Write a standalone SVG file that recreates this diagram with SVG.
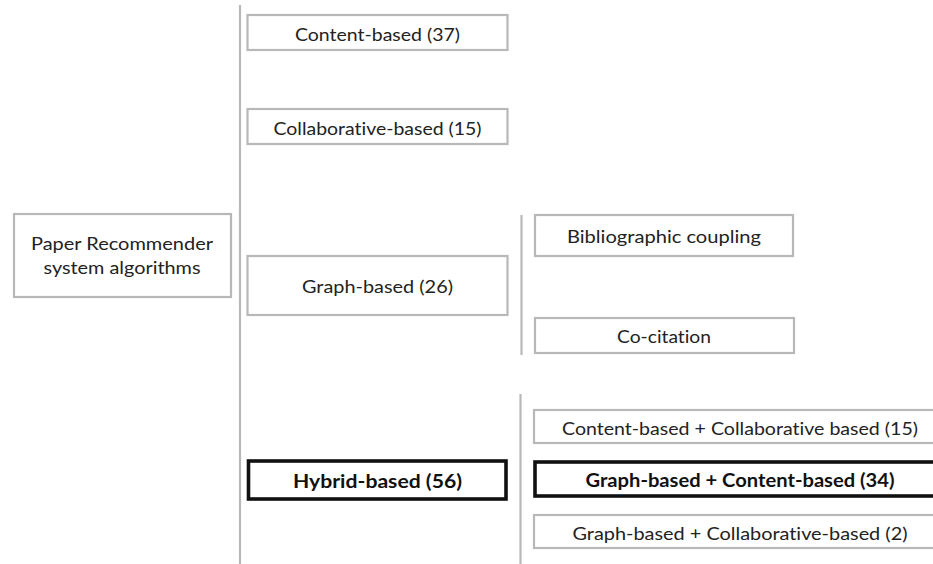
<svg xmlns="http://www.w3.org/2000/svg" width="933" height="564" viewBox="0 0 933 564">
  <style>
    .box { fill: #ffffff; stroke: #b8b8b8; stroke-width: 2.2; }
    .box-strong { fill: #ffffff; stroke: #111111; stroke-width: 3.6; }
    .rail { stroke: #b8b8b8; stroke-width: 2.2; fill: none; }
    .lbl { font-family: Lato, "Open Sans", "Liberation Sans", sans-serif; font-size: 18px; fill: #222222; text-anchor: middle; font-variant-ligatures: none; }
    .bold { font-weight: 700; fill: #111111; }
  </style>
  <rect x="0" y="0" width="933" height="564" fill="#ffffff"/>

  <!-- vertical rails joining each level -->
  <g id="connectors">
    <line class="rail" x1="240" y1="5" x2="240" y2="564"/>
    <line class="rail" x1="521.5" y1="215" x2="521.5" y2="355"/>
    <line class="rail" x1="520.5" y1="394" x2="520.5" y2="564"/>
  </g>

  <g id="root">
    <rect class="box" x="14" y="214" width="217" height="83"/>
    <text class="lbl" x="122" y="250" textLength="182" lengthAdjust="spacingAndGlyphs">Paper Recommender</text>
    <text class="lbl" x="122" y="274" textLength="157" lengthAdjust="spacingAndGlyphs">system algorithms</text>
  </g>

  <g id="content-based">
    <rect class="box" x="247.5" y="15" width="260" height="35"/>
    <text class="lbl" x="377.5" y="40.5" textLength="165" lengthAdjust="spacingAndGlyphs">Content-based (37)</text>
  </g>

  <g id="collaborative-based">
    <rect class="box" x="247.5" y="109" width="260" height="35"/>
    <text class="lbl" x="377.5" y="135" textLength="208" lengthAdjust="spacingAndGlyphs">Collaborative-based (15)</text>
  </g>

  <g id="graph-based">
    <rect class="box" x="247.5" y="256" width="260" height="59"/>
    <text class="lbl" x="377.5" y="293" textLength="151" lengthAdjust="spacingAndGlyphs">Graph-based (26)</text>
  </g>

  <g id="hybrid-based">
    <rect class="box-strong" x="248.5" y="461" width="257.5" height="38"/>
    <text class="lbl bold" x="377.5" y="487.5" textLength="169" lengthAdjust="spacingAndGlyphs">Hybrid-based (56)</text>
  </g>

  <g id="bibliographic-coupling">
    <rect class="box" x="535" y="215" width="258" height="41"/>
    <text class="lbl" x="664" y="242.5" textLength="194" lengthAdjust="spacingAndGlyphs">Bibliographic coupling</text>
  </g>

  <g id="co-citation">
    <rect class="box" x="535" y="318" width="259" height="35"/>
    <text class="lbl" x="664" y="342.5" textLength="94" lengthAdjust="spacingAndGlyphs">Co-citation</text>
  </g>

  <g id="hybrid-content-collaborative">
    <rect class="box" x="534" y="410" width="412" height="33"/>
    <text class="lbl" x="740" y="435" textLength="356" lengthAdjust="spacingAndGlyphs">Content-based + Collaborative based (15)</text>
  </g>

  <g id="hybrid-graph-content">
    <rect class="box-strong" x="535" y="462" width="410" height="34"/>
    <text class="lbl bold" x="740" y="486.5" textLength="309" lengthAdjust="spacingAndGlyphs">Graph-based + Content-based (34)</text>
  </g>

  <g id="hybrid-graph-collaborative">
    <rect class="box" x="534" y="515" width="412" height="33"/>
    <text class="lbl" x="740" y="540" textLength="335" lengthAdjust="spacingAndGlyphs">Graph-based + Collaborative-based (2)</text>
  </g>
</svg>
